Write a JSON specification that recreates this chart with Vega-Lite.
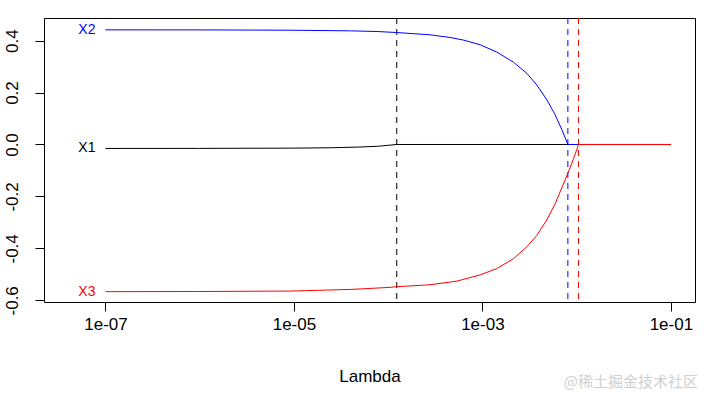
{
  "$schema": "https://vega.github.io/schema/vega-lite/v6.json",
  "width": 651,
  "height": 284,
  "autosize": "none",
  "padding": {"left": 44, "top": 18, "right": 9, "bottom": 91},
  "background": "white",
  "config": {
    "font": "Liberation Sans",
    "view": {"stroke": "black", "strokeWidth": 1},
    "axis": {"grid": false, "domain": false, "tickColor": "black", "tickSize": 9, "labelColor": "black", "labelFontSize": 17, "labelFont": "Liberation Sans", "titleFont": "Liberation Sans", "titleFontSize": 17, "titleFontWeight": "normal", "titleColor": "black"}
  },
  "title": {"text": "@稀土掘金技术社区", "orient": "bottom", "anchor": "end", "frame": "group", "font": "Noto Sans CJK SC", "fontSize": 15, "fontWeight": "normal", "color": "#cfcfcf", "offset": -9, "dx": 3},
  "datasets": {
    "coef": [
      {"lambda": 1e-7, "coef": -0.0153, "var": "X1"},
      {"lambda": 1e-6, "coef": -0.0150, "var": "X1"},
      {"lambda": 1e-5, "coef": -0.0140, "var": "X1"},
      {"lambda": 2.5e-5, "coef": -0.0125, "var": "X1"},
      {"lambda": 5e-5, "coef": -0.0098, "var": "X1"},
      {"lambda": 7.9e-5, "coef": -0.0066, "var": "X1"},
      {"lambda": 1.233e-4, "coef": 0, "var": "X1"},
      {"lambda": 1e-1, "coef": 0, "var": "X1"},
      {"lambda": 1e-7, "coef": 0.4414, "var": "X2"},
      {"lambda": 1e-6, "coef": 0.4412, "var": "X2"},
      {"lambda": 9.1e-6, "coef": 0.4400, "var": "X2"},
      {"lambda": 4e-5, "coef": 0.4375, "var": "X2"},
      {"lambda": 7.6e-5, "coef": 0.4350, "var": "X2"},
      {"lambda": 1.233e-4, "coef": 0.4311, "var": "X2"},
      {"lambda": 2.78e-4, "coef": 0.4223, "var": "X2"},
      {"lambda": 4.54e-4, "coef": 0.4120, "var": "X2"},
      {"lambda": 6.28e-4, "coef": 0.4020, "var": "X2"},
      {"lambda": 9.46e-4, "coef": 0.3840, "var": "X2"},
      {"lambda": 1.42e-3, "coef": 0.3560, "var": "X2"},
      {"lambda": 2.13e-3, "coef": 0.3170, "var": "X2"},
      {"lambda": 2.96e-3, "coef": 0.2740, "var": "X2"},
      {"lambda": 3.78e-3, "coef": 0.2290, "var": "X2"},
      {"lambda": 4.83e-3, "coef": 0.1720, "var": "X2"},
      {"lambda": 5.92e-3, "coef": 0.1140, "var": "X2"},
      {"lambda": 6.97e-3, "coef": 0.0570, "var": "X2"},
      {"lambda": 8.07e-3, "coef": 0, "var": "X2"},
      {"lambda": 1e-1, "coef": 0, "var": "X2"},
      {"lambda": 1e-7, "coef": -0.5666, "var": "X3"},
      {"lambda": 1e-6, "coef": -0.5660, "var": "X3"},
      {"lambda": 9.1e-6, "coef": -0.5643, "var": "X3"},
      {"lambda": 4e-5, "coef": -0.5580, "var": "X3"},
      {"lambda": 1.05e-4, "coef": -0.5500, "var": "X3"},
      {"lambda": 1.233e-4, "coef": -0.5475, "var": "X3"},
      {"lambda": 2.78e-4, "coef": -0.5400, "var": "X3"},
      {"lambda": 5.37e-4, "coef": -0.5260, "var": "X3"},
      {"lambda": 9.46e-4, "coef": -0.5020, "var": "X3"},
      {"lambda": 1.42e-3, "coef": -0.4780, "var": "X3"},
      {"lambda": 2.13e-3, "coef": -0.4400, "var": "X3"},
      {"lambda": 2.96e-3, "coef": -0.3940, "var": "X3"},
      {"lambda": 3.78e-3, "coef": -0.3500, "var": "X3"},
      {"lambda": 4.83e-3, "coef": -0.2900, "var": "X3"},
      {"lambda": 5.92e-3, "coef": -0.2280, "var": "X3"},
      {"lambda": 6.97e-3, "coef": -0.1660, "var": "X3"},
      {"lambda": 8.07e-3, "coef": -0.1110, "var": "X3"},
      {"lambda": 9.27e-3, "coef": -0.0550, "var": "X3"},
      {"lambda": 1.047e-2, "coef": 0, "var": "X3"},
      {"lambda": 1e-1, "coef": 0, "var": "X3"}
    ],
    "cuts": [
      {"lambda": 1.233e-4, "var": "X1"},
      {"lambda": 8.07e-3, "var": "X2"},
      {"lambda": 1.047e-2, "var": "X3"}
    ],
    "labels": [
      {"lambda": 1e-7, "coef": -0.0153, "var": "X1"},
      {"lambda": 1e-7, "coef": 0.4414, "var": "X2"},
      {"lambda": 1e-7, "coef": -0.5666, "var": "X3"}
    ]
  },
  "encoding": {
    "x": {
      "field": "lambda", "type": "quantitative",
      "scale": {"type": "log", "domain": [2.228e-8, 0.1803], "nice": false},
      "axis": {"values": [1e-7, 1e-5, 1e-3, 1e-1], "labelExpr": "'1e-0' + toString(round(-log(datum.value)/LN10))", "title": "Lambda", "labelPadding": 5, "titlePadding": 36, "labelFlush": false}
    },
    "y": {
      "field": "coef", "type": "quantitative",
      "scale": {"domain": [-0.6064, 0.487], "nice": false, "zero": false},
      "axis": {"values": [-0.6, -0.4, -0.2, 0, 0.2, 0.4], "labelExpr": "replace(format(datum.value, '.1f'), '\u2212', '-')", "labelAngle": -90, "labelAlign": "center", "labelBaseline": "bottom", "labelPadding": 14, "title": null, "labelFlush": false}
    },
    "color": {
      "field": "var", "type": "nominal",
      "scale": {"domain": ["X1", "X2", "X3"], "range": ["#000000", "#0000ff", "#ff0000"]},
      "legend": null
    }
  },
  "layer": [
    {
      "data": {"name": "cuts"},
      "mark": {"type": "rule", "strokeDash": [6, 5], "strokeWidth": 1},
      "encoding": {"y": null}
    },
    {
      "data": {"name": "coef"},
      "transform": [{"filter": "datum.var === 'X1'"}],
      "mark": {"type": "line", "strokeWidth": 1}
    },
    {
      "data": {"name": "coef"},
      "transform": [{"filter": "datum.var === 'X2'"}],
      "mark": {"type": "line", "strokeWidth": 1}
    },
    {
      "data": {"name": "coef"},
      "transform": [{"filter": "datum.var === 'X3'"}],
      "mark": {"type": "line", "strokeWidth": 1}
    },
    {
      "data": {"name": "labels"},
      "mark": {"type": "text", "align": "right", "baseline": "middle", "dx": -10, "fontSize": 14},
      "encoding": {
        "text": {"field": "var"}
      }
    }
  ]
}
